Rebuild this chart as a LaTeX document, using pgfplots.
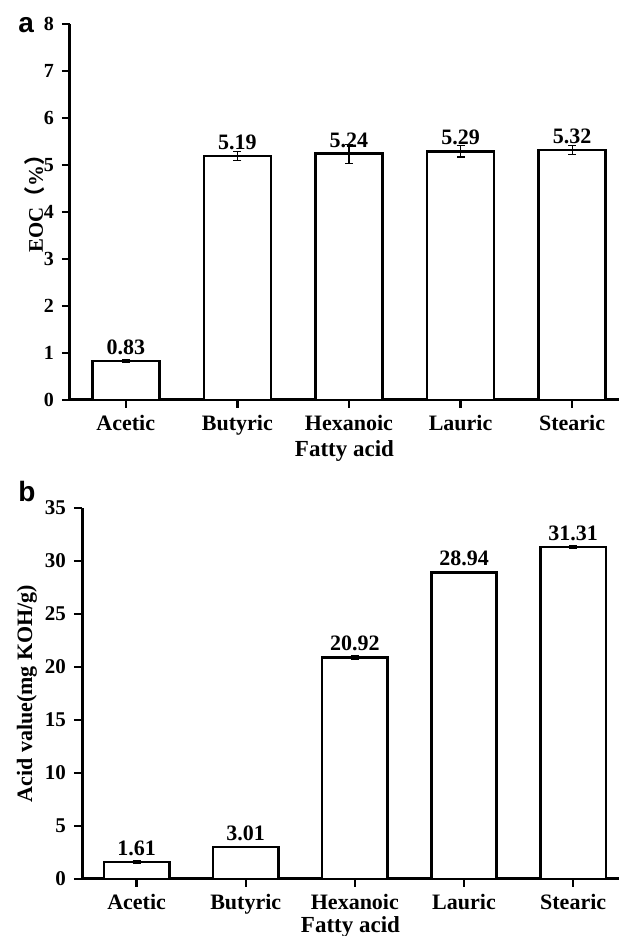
\documentclass[border=0pt]{standalone}
\usepackage{fontspec}
\setmainfont{Liberation Serif}
\newfontfamily\sansf{Liberation Sans}
\newfontfamily\cjk{Noto Sans CJK SC}
\usepackage{pgfplots}
\usepackage{pgfplotstable}
\pgfplotsset{compat=1.18}

\pgfplotstableread{
x y e
0 0.83 0.02
1 5.19 0.10
2 5.24 0.20
3 5.29 0.12
4 5.32 0.10
}\dataa

\pgfplotstableread{
x y e
0 1.61 0.10
1 3.01 0.05
2 20.92 0.20
3 28.94 0.10
4 31.31 0.15
}\datab

\pgfplotsset{
  panel/.style={
    scale only axis,
    axis lines=left,
    axis line style={-, line width=1.5pt, black},
    enlargelimits=false,
    clip=false,
    xmin=-0.5, xmax=4.42,
    ymin=0,
    tick align=outside,
    major tick length=4pt,
    every tick/.style={black, line width=1.2pt},
    xtick={0,1,2,3,4},
    xticklabels={Acetic,Butyric,Hexanoic,Lauric,Stearic},
    /pgf/number format/assume math mode=true,
    yticklabel style={xshift=-0.5pt},
    xticklabel style={font=\bfseries\fontsize{11}{13}\selectfont},
    xlabel={Fatty acid},
    xlabel style={font=\bfseries\fontsize{11.5}{13}\selectfont},
    ylabel style={anchor=center},
  },
  bars/.style={
    ybar, bar width=0.6, fill=white, draw=black, line width=1.3pt,
    point meta=explicit symbolic,
    nodes near coords={\pgfplotspointmeta},
    every node near coord/.append style={font=\bfseries\fontsize{11}{13}\selectfont, black, inner sep=2.5pt},
    error bars/.cd, y dir=both, y explicit,
    error bar style={line width=0.6pt, black},
    error mark options={rotate=90, mark size=2pt, line width=0.6pt, black},
  },
}

\begin{document}
\begin{tikzpicture}
\useasboundingbox (0,0) rectangle (309.5pt,468pt);

\begin{axis}[panel,
  at={(35pt,268pt)}, anchor=south west,
  width=274.5pt, height=188pt,
  ymax=8, ytick={0,1,...,8},
  yticklabel style={font=\bfseries\fontsize{10}{12}\selectfont},
  ylabel={EOC{\cjk（}\%{\cjk）}},
  ylabel style={at={(axis description cs:-0.0640,0.535)}, font=\bfseries\fontsize{10.4}{12}\selectfont},
  xlabel style={at={(axis description cs:0.5,-0.1516)}, anchor=base},
]
\addplot[bars] table[x=x, y=y, y error=e, meta=y] {\dataa};
\end{axis}

\begin{axis}[panel,
  at={(41pt,28.5pt)}, anchor=south west,
  width=268.5pt, height=185.5pt,
  ymax=35, ytick={0,5,...,35},
  yticklabel style={font=\bfseries\fontsize{10.5}{12}\selectfont},
  ylabel={Acid value(mg KOH/g)},
  ylabel style={at={(axis description cs:-0.1024,0.5)}, font=\bfseries\fontsize{11}{13}\selectfont},
  xlabel style={at={(axis description cs:0.5,-0.1429)}, anchor=base},
]
\addplot[bars] table[x=x, y=y, y error=e, meta=y] {\datab};
\end{axis}

\node[anchor=base west, inner sep=0pt, font=\sansf\bfseries\fontsize{14}{14}\selectfont] at (9pt,451.5pt) {a};
\node[anchor=base west, inner sep=0pt, font=\sansf\bfseries\fontsize{14}{14}\selectfont] at (9pt,217pt) {b};
\end{tikzpicture}
\end{document}
